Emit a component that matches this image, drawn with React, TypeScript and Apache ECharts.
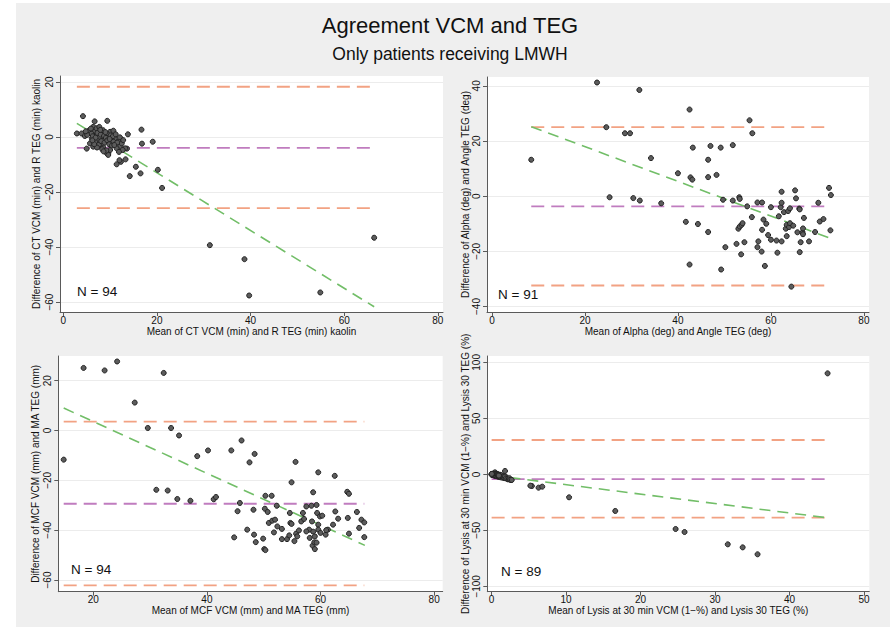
import React, { useEffect, useRef } from 'react';
import * as echarts from 'echarts';

const FONT = '"Liberation Sans", Arial, Helvetica, sans-serif';
const ORANGE = '#f2a283';
const PURPLE = '#c07cbf';
const GREEN = '#72be68';

const titleText = 'Agreement VCM and TEG';
const subtitleText = 'Only patients receiving LMWH';

// Panel 1: CT VCM vs R TEG
const p1Points = [
  [31.3,-39.3],[38.7,-44.4],[39.7,-57.6],[54.9,-56.5],[66.4,-36.6],[21.1,-18.5],[20.2,-11.9],[19.1,-1.7],
  [16.7,2.7],[16.8,-2.4],[16.5,-13.2],[15.5,-10.8],[14.2,-14.2],[13.3,-8.1],[13.8,1.0],[13.6,-4.2],
  [12.3,-9.0],[12.0,-8.4],[11.4,-9.9],[4.2,7.6],[2.9,1.3],[9.4,5.9],[6.7,5.7],[5.0,-4.2],[9.6,-6.0],
  [6.8,2.2],[3.9,1.3],[4.6,0.4],[5.3,1.9],[6.4,3.7],[7.1,3.2],[7.7,3.7],[7.8,1.9],[8.5,2.5],[10.0,1.9],
  [10.7,2.3],[9.6,0.1],[10.3,-1.1],[11.0,-0.5],[11.8,-1.7],[12.1,-3.5],[12.5,-2.3],[11.4,-4.1],[10.0,-4.7],
  [9.3,-5.9],[8.5,-3.5],[8.2,-2.3],[7.5,-1.1],[6.8,-1.7],[6.1,-0.5],[5.7,-2.3],[6.4,-3.5],[7.1,0.7],
  [7.8,0.1],[8.9,-0.8],[9.3,1.3],[10.7,-1.7],[12.1,-0.1],[12.8,-1.1],[13.2,-4.1],[12.7,-4.7],[9.6,-6.5],
  [5.5,2.4],[6.0,1.2],[6.3,0.3],[6.9,-0.2],[7.3,1.5],[7.6,-2.8],[8.0,0.9],[8.1,-1.5],[8.7,0.4],[8.8,-2.0],
  [9.0,1.8],[9.1,-0.3],[9.4,-1.2],[9.8,-2.6],[10.1,0.6],[10.4,-3.1],[10.6,0.3],[11.2,1.0],[11.5,-2.0],
  [7.2,-3.8],[8.3,-4.4],[9.2,-4.9],[5.1,0.8],[5.9,3.1],[6.6,-2.6],[7.9,2.6],[8.6,-5.2],[9.9,-0.7],
  [10.9,-2.9],[4.8,2.1],[11.9,-5.4],[6.2,-1.2]
];
const p1Limits = [18.3, -3.9, -25.8];
const p1Fit = [[2.9, 5.0], [66.4, -61.7]];
const p1XTicks = [0, 20, 40, 60, 80];
const p1YTicks = [-60, -40, -20, 0, 20];
const p1XTitle = 'Mean of CT VCM (min) and R TEG (min) kaolin';
const p1YTitle = 'Difference of CT VCM (min) and R TEG (min) kaolin';
const p1N = 'N = 94';

// Panel 2: Alpha vs Angle
const p2Points = [
  [8.45,13.2],[22.6,41.2],[31.7,38.5],[24.6,25.0],[28.6,22.8],[29.7,22.8],[25.3,-0.4],[30.4,-0.7],
  [31.8,-1.6],[34.2,13.8],[36.4,-2.6],[40.0,8.3],[42.5,31.4],[43.2,17.6],[42.7,6.8],[43.1,6.0],
  [41.7,-9.3],[44.3,-10.1],[42.5,-24.8],[46.5,13.2],[47.0,18.2],[46.5,6.9],[46.5,-13.0],[48.3,7.7],
  [49.2,17.6],[49.7,-1.3],[50.2,-18.5],[49.3,-26.6],[51.8,18.5],[51.8,-1.6],[55.4,27.5],[56.0,22.8],
  [53.2,-0.4],[53.3,-1.0],[52.6,-17.3],[53.0,-11.8],[53.3,-11.0],[53.7,-10.4],[53.9,-9.8],[54.3,-16.7],
  [53.6,-21.1],[54.9,-3.7],[55.9,-7.6],[57.1,-2.3],[58.1,-2.3],[57.3,-16.4],[57.1,-18.5],[58.0,-20.1],
  [58.1,-12.2],[58.4,-8.5],[59.0,-10.0],[58.7,-25.3],[59.4,-14.1],[60.0,-4.0],[60.0,-15.8],[61.2,-16.1],
  [61.4,-20.5],[61.7,-7.3],[62.1,-4.0],[62.3,-2.4],[62.3,1.6],[62.3,-16.4],[62.8,-5.8],[63.2,-11.8],
  [63.4,-14.5],[63.4,-10.4],[63.7,-5.4],[63.9,-11.2],[64.1,-9.8],[64.1,-4.4],[64.4,-32.8],[65.2,2.1],
  [65.4,-0.8],[65.7,-13.1],[66.1,-4.5],[66.2,-4.8],[66.2,-20.3],[66.4,-16.7],[66.8,-13.1],[66.9,-13.8],
  [67.1,-7.9],[68.2,-16.4],[69.5,-13.0],[70.2,-2.4],[70.5,-9.2],[71.3,-8.3],[72.5,3.0],[72.9,0.4],
  [72.8,-12.4],[64.8,-10.7],[66.9,-11.7]
];
const p2Limits = [25.0, -3.7, -32.4];
const p2Fit = [[8.45, 25.2], [73.0, -15.4]];
const p2XTicks = [0, 20, 40, 60, 80];
const p2YTicks = [-40, -20, 0, 20, 40];
const p2XTitle = 'Mean of Alpha (deg) and Angle TEG (deg)';
const p2YTitle = 'Difference of Alpha (deg) and Angle TEG (deg)';
const p2N = 'N = 91';

// Panel 3: MCF vs MA
const p3Points = [
  [14.8,-11.7],[18.3,25.1],[22.0,24.1],[24.2,27.7],[27.3,11.2],[32.4,23.1],[29.6,1.0],[33.7,1.0],
  [35.1,-2.0],[38.3,-10.3],[40.2,-8.0],[31.1,-23.8],[33.1,-24.1],[34.8,-27.5],[37.1,-28.2],[41.2,-27.6],
  [41.6,-26.7],[44.3,-8.0],[46.1,-4.0],[47.5,-12.8],[48.4,-9.4],[45.8,-29.1],[45.4,-32.4],[44.8,-42.9],
  [47.1,-39.8],[48.2,-31.8],[48.3,-41.8],[48.6,-44.8],[49.9,-43.4],[50.1,-47.6],[50.3,-48.0],[50.3,-26.2],
  [50.2,-31.4],[50.7,-32.7],[50.9,-37.1],[51.4,-26.2],[51.5,-36.2],[51.8,-40.9],[52.0,-35.8],[52.3,-30.2],
  [52.4,-38.5],[53.2,-39.5],[53.2,-43.6],[54.6,-33.1],[54.7,-37.1],[54.9,-20.8],[54.1,-43.6],[54.5,-42.1],
  [55.4,-44.4],[55.6,-12.6],[55.7,-41.4],[55.9,-42.5],[56.2,-40.1],[56.6,-36.5],[56.9,-33.1],[57.5,-30.5],
  [58.0,-39.8],[58.1,-43.1],[58.4,-30.2],[58.5,-36.5],[58.6,-46.2],[58.7,-24.8],[58.7,-40.6],[58.9,-44.9],
  [59.0,-47.6],[59.3,-29.9],[59.4,-33.1],[59.6,-16.8],[59.6,-37.8],[59.6,-39.8],[59.9,-34.5],[60.0,-41.1],
  [60.3,-34.2],[60.9,-41.8],[61.3,-39.8],[62.2,-37.8],[62.5,-18.2],[62.6,-32.5],[63.1,-35.4],[64.7,-24.6],
  [65.0,-25.4],[64.8,-35.1],[65.0,-41.4],[66.4,-32.7],[66.8,-39.1],[67.2,-35.8],[67.7,-36.9],[67.7,-42.8],
  [61.0,-40.0],[59.3,-45.0],[59.0,-42.5],[57.5,-40.5],[54.9,-37.5],[57.1,-35.5]
];
const p3Limits = [3.6, -29.4, -62.2];
const p3Fit = [[14.8, 9.0], [67.8, -46.1]];
const p3XTicks = [20, 40, 60, 80];
const p3YTicks = [-60, -40, -20, 0, 20];
const p3XTitle = 'Mean of MCF VCM (mm) and MA TEG (mm)';
const p3YTitle = 'Difference of MCF VCM (mm) and MA TEG (mm)';
const p3N = 'N = 94';

// Panel 4: Lysis
const p4Points = [
  [45.1,90.2],[31.7,-62.5],[33.7,-65.2],[35.7,-71.4],[24.7,-48.8],[25.9,-51.5],[16.6,-32.7],[10.4,-20.5],
  [5.4,-10.4],[5.2,-10.1],[6.3,-11.9],[6.8,-11.0],[1.8,3.0],[2.0,-2.7],[2.6,-5.1],[2.2,-4.5],
  [0.0,0.2],[0.05,-0.1],[0.1,0.5],[0.1,-0.4],[0.15,0.0],[0.2,-0.6],[0.2,0.3],[0.25,-0.2],[0.3,0.8],
  [0.3,-0.9],[0.35,-0.3],[0.4,0.1],[0.4,-1.2],[0.45,1.8],[0.5,-0.5],[0.5,0.4],[0.55,-1.5],[0.6,-0.1],
  [0.6,-0.8],[0.65,0.6],[0.7,-1.1],[0.7,-0.3],[0.75,-1.8],[0.8,0.2],[0.8,-0.6],[0.85,-1.4],[0.9,-0.9],
  [0.9,-2.1],[0.95,-0.2],[1.0,-1.6],[1.0,-0.7],[1.05,-2.4],[1.1,-1.1],[1.15,-0.4],[1.2,-1.9],[1.25,-2.7],
  [1.3,-1.3],[1.35,-0.8],[1.4,-2.2],[1.5,-3.0],[1.55,-1.7],[1.6,-2.5],[1.7,-3.3],[1.8,-2.0],[1.9,-3.6],
  [2.1,-3.9],[2.3,-4.2],[2.4,-3.4],[2.5,-4.8],[2.7,-5.0],[0.0,0.0],[0.02,0.1],[0.08,-0.2],[0.12,0.2],
  [0.18,-0.3],[0.22,0.0],[0.28,-0.5],[0.32,0.2],[0.38,-0.7],[0.42,-0.1],[0.48,-1.0],[0.52,0.1],
  [0.58,-0.4],[0.62,-1.3],[0.68,0.0],[0.72,-0.5],[0.78,-1.0],[0.82,-0.3],[0.88,-1.2],[0.92,-0.5],
  [0.98,-1.1],[0.0,-0.3],[0.03,0.4]
];
const p4Limits = [30.7, -4.2, -38.7];
const p4Fit = [[0.0, -0.8], [45.1, -38.8]];
const p4XTicks = [0, 10, 20, 30, 40, 50];
const p4YTicks = [-100, -50, 0, 50, 100];
const p4XTitle = 'Mean of Lysis at 30 min VCM (1\u2212%) and Lysis 30 TEG (%)';
const p4YTitle = 'Difference of Lysis at 30 min VCM (1\u2212%) and Lysis 30 TEG (%)';
const p4N = 'N = 89';

const panels = [
  { pts: p1Points, lim: p1Limits, fit: p1Fit, xt: p1XTicks, yt: p1YTicks, xTitle: p1XTitle, yTitle: p1YTitle, n: p1N,
    grid: { left: 60, top: 76, width: 383, height: 236 }, xr: [-0.7, 81.1], yr: [-63.6, 22.2], nPos: [77, 291], yTitleX: 36 },
  { pts: p2Points, lim: p2Limits, fit: p2Fit, xt: p2XTicks, yt: p2YTicks, xTitle: p2XTitle, yTitle: p2YTitle, n: p2N,
    grid: { left: 487, top: 77, width: 382, height: 235 }, xr: [-1.07, 81.1], yr: [-42.0, 43.2], nPos: [498, 294], yTitleX: 465 },
  { pts: p3Points, lim: p3Limits, fit: p3Fit, xt: p3XTicks, yt: p3YTicks, xTitle: p3XTitle, yTitle: p3YTitle, n: p3N,
    grid: { left: 58.3, top: 356, width: 384.4, height: 235.7 }, xr: [13.85, 81.5], yr: [-64.7, 29.9], nPos: [71, 569.5], yTitleX: 35.7 },
  { pts: p4Points, lim: p4Limits, fit: p4Fit, xt: p4XTicks, yt: p4YTicks, xTitle: p4XTitle, yTitle: p4YTitle, n: p4N,
    grid: { left: 487.3, top: 356, width: 382, height: 235.7 }, xr: [-0.58, 50.7], yr: [-104.8, 105.7], nPos: [501, 571], yTitleX: 465 },
];

const fmt = (v: number) => String(v).replace('-', '\u2212');

export default function App() {
  const ref = useRef<HTMLDivElement>(null);
  useEffect(() => {
    if (!ref.current) return;
    const chart = echarts.init(ref.current, undefined, { renderer: 'svg' });
    const axisColor = '#5a5a5a';
    const grids: any[] = [];
    const xAxes: any[] = [];
    const yAxes: any[] = [];
    const series: any[] = [];
    const graphics: any[] = [
      { type: 'rect', shape: { x: 0, y: 0, width: 16, height: 627 }, style: { fill: '#ffffff' }, silent: true },
      { type: 'rect', shape: { x: 0, y: 0, width: 890, height: 3 }, style: { fill: '#ffffff' }, silent: true },
      { type: 'text', x: 450, y: 25, style: { text: titleText, font: `22px ${FONT}`, fill: '#111', align: 'center', verticalAlign: 'middle' } },
      { type: 'text', x: 450, y: 53.5, style: { text: subtitleText, font: `17.5px ${FONT}`, fill: '#111', align: 'center', verticalAlign: 'middle' } },
    ];
    panels.forEach((p, i) => {
      grids.push({ ...p.grid, show: true, backgroundColor: '#ffffff', borderWidth: 0, containLabel: false, outerBoundsMode: 'none' });
      xAxes.push({
        type: 'value', gridIndex: i, min: p.xr[0], max: p.xr[1],
        name: p.xTitle, nameLocation: 'middle', nameGap: 14,
        nameTextStyle: { fontFamily: FONT, fontSize: 10, color: '#111' },
        axisLine: { show: true, onZero: false, lineStyle: { color: axisColor, width: 1 } },
        axisTick: { show: true, length: 4, customValues: p.xt, lineStyle: { color: axisColor } },
        axisLabel: { customValues: p.xt, fontFamily: FONT, fontSize: 10, color: '#111', margin: 3, formatter: fmt },
        splitLine: { show: false },
      });
      yAxes.push({
        type: 'value', gridIndex: i, min: p.yr[0], max: p.yr[1],
        axisLine: { show: true, onZero: false, lineStyle: { color: axisColor, width: 1 } },
        axisTick: { show: true, length: 4, customValues: p.yt, lineStyle: { color: axisColor } },
        axisLabel: { customValues: p.yt, rotate: 90, fontFamily: FONT, fontSize: 10, color: '#111', margin: 6, formatter: fmt },
        splitLine: { show: true, lineStyle: { color: '#ececec', width: 1 } },
      });
      const xs = p.pts.map((d) => d[0]);
      const xmin = Math.min(...xs);
      const xmax = Math.max(...xs);
      const limColors = [ORANGE, PURPLE, ORANGE];
      p.lim.forEach((v, k) => {
        series.push({
          type: 'line', xAxisIndex: i, yAxisIndex: i, data: [[xmin, v], [xmax, v]],
          symbol: 'none', silent: true, z: 2,
          lineStyle: { color: limColors[k], width: 1.8, type: [13, 7] },
        });
      });
      series.push({
        type: 'line', xAxisIndex: i, yAxisIndex: i, data: p.fit,
        symbol: 'none', silent: true, z: 2,
        lineStyle: { color: GREEN, width: 1.6, type: [11, 7] },
      });
      series.push({
        type: 'scatter', xAxisIndex: i, yAxisIndex: i, data: p.pts, symbol: 'circle', symbolSize: 5, z: 3,
        itemStyle: { color: '#5c5c5c', borderColor: '#222222', borderWidth: 1, opacity: 1 },
      });
      graphics.push({ type: 'text', x: p.nPos[0], y: p.nPos[1], style: { text: p.n, font: `13.5px ${FONT}`, fill: '#111', align: 'left', verticalAlign: 'middle' } });
      graphics.push({
        type: 'text', x: p.yTitleX, y: p.grid.top + p.grid.height / 2, rotation: Math.PI / 2,
        style: { text: p.yTitle, font: `10px ${FONT}`, fill: '#111', align: 'center', verticalAlign: 'middle' },
      });
    });
    chart.setOption({
      animation: false,
      backgroundColor: '#efefef',
      grid: grids,
      xAxis: xAxes,
      yAxis: yAxes,
      series,
      graphic: graphics,
    });
    return () => chart.dispose();
  }, []);
  return <div ref={ref} style={{ position: 'absolute', left: 0, top: 0, width: 890, height: 627 }} />;
}
